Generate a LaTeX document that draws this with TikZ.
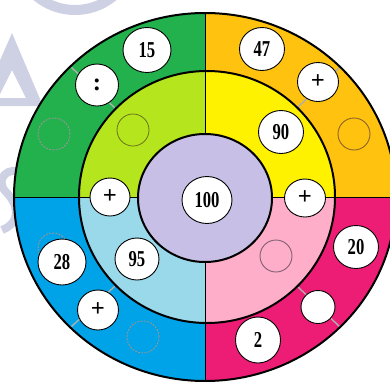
\documentclass[tikz,border=0pt]{standalone}
\usepackage{fontspec}
\setmainfont{Liberation Serif}
\usetikzlibrary{shapes.geometric}
\definecolor{cgreen}{RGB}{34,177,76}
\definecolor{clime}{RGB}{181,230,29}
\definecolor{corange}{RGB}{255,194,14}
\definecolor{cyellow}{RGB}{255,242,0}
\definecolor{cmagenta}{RGB}{237,28,116}
\definecolor{cpink}{RGB}{255,174,201}
\definecolor{cblue}{RGB}{0,162,232}
\definecolor{clblue}{RGB}{153,217,234}
\definecolor{clav}{RGB}{200,191,231}
\definecolor{cwater}{RGB}{206,209,228}
\definecolor{colive}{RGB}{105,115,25}
\definecolor{cbrown}{RGB}{140,100,40}
\definecolor{cmauve}{RGB}{130,95,115}
\definecolor{cradial}{RGB}{175,175,175}
\definecolor{cdash}{RGB}{150,150,150}
\tikzset{
  numnode/.style 2 args={ellipse, draw=black, line width=0.9bp, fill=white, inner sep=0pt,
    minimum width=#1bp, minimum height=#2bp,
    font=\fontsize{19}{19}\selectfont\bfseries},
  dashcirc/.style={draw=cdash, line width=0.9bp, dash pattern=on 2bp off 1.2bp},
  ringline/.style={line width=2bp, draw=black},
  divline/.style={line width=0.9bp, draw=black},
  radline/.style={line width=1.4bp, draw=cradial}
}
\newcommand{\tall}[1]{\scalebox{0.88}[1.2]{#1}}
\newcommand{\sym}[1]{\scalebox{1.3}[1.3]{#1}}
\begin{document}
\begin{tikzpicture}[x=1bp,y=-1bp]
\useasboundingbox (0,0) rectangle (390,382);
% watermark
\fill[cwater, even odd rule] (75,-50) circle [radius=65bp] (75,-50) circle [radius=55bp];
\fill[cwater, even odd rule] (12,33) -- (43,106) -- (-20,106) -- cycle
  (12,70) -- (26,98) -- (-2,98) -- cycle;
\draw[cwater, line width=8bp] (24,174) .. controls (8,164) and (-6,180) .. (6,192)
  .. controls (18,204) and (22,222) .. (2,230);
% outer ring quadrants
\coordinate (C) at (205,197);
\begin{scope}
  \clip (0,0) rectangle (205,197);
  \fill[cgreen] (205,197) ellipse [x radius=191bp, y radius=184bp];
  \fill[clime] (207,197) ellipse [x radius=128bp, y radius=126bp];
\end{scope}
\begin{scope}
  \clip (205,0) rectangle (400,197);
  \fill[corange] (205,197) ellipse [x radius=191bp, y radius=184bp];
  \fill[cyellow] (207,197) ellipse [x radius=128bp, y radius=126bp];
\end{scope}
\begin{scope}
  \clip (0,197) rectangle (205,390);
  \fill[cblue] (205,197) ellipse [x radius=191bp, y radius=184bp];
  \fill[clblue] (207,197) ellipse [x radius=128bp, y radius=126bp];
\end{scope}
\begin{scope}
  \clip (205,197) rectangle (400,390);
  \fill[cmagenta] (205,197) ellipse [x radius=191bp, y radius=184bp];
  \fill[cpink] (207,197) ellipse [x radius=128bp, y radius=126bp];
\end{scope}
% dividers
\coordinate (dT) at (205,13);
\coordinate (dB) at (205,381);
\coordinate (dL) at (14,197);
\coordinate (dR) at (396,197);
\draw[divline] (dT) -- (dB);
\draw[divline] (dL) -- (dR);
% radial grey lines in outer ring
\coordinate (r1a) at (115,108); \coordinate (r1b) at (71,67);
\coordinate (r2a) at (297,108); \coordinate (r2b) at (340,67);
\coordinate (r3a) at (115,286); \coordinate (r3b) at (71,327);
\coordinate (r4a) at (297,286); \coordinate (r4b) at (340,327);
\draw[radline] (r1a) -- (r1b);
\draw[radline] (r2a) -- (r2b);
\draw[radline] (r3a) -- (r3b);
\draw[radline] (r4a) -- (r4b);
% inner circle
\fill[clav] (205,198) ellipse [x radius=67bp, y radius=64bp];
% ring borders
\draw[ringline] (205,197) ellipse [x radius=191bp, y radius=184bp];
\draw[ringline] (207,197) ellipse [x radius=128bp, y radius=126bp];
\draw[ringline] (205,198) ellipse [x radius=67bp, y radius=64bp];
% empty outline circles
\draw[dashcirc] (54,134) circle [radius=16bp];
\draw[dashcirc] (143,337) circle [radius=16bp];
\draw[dashcirc] (53,248) circle [radius=15bp];
\draw[colive, line width=0.8bp] (133,130) circle [radius=16bp];
\draw[cbrown, line width=0.9bp] (354,134) circle [radius=16bp];
\draw[cmauve, line width=0.9bp] (276,256) circle [radius=16bp];
% number circles
\node[numnode={48}{45}] (n15) at (147,50) {\tall{15}};
\node[numnode={43}{42}] (ncolon) at (97,85) {\sym{:}};
\node[numnode={45}{43}] (n47) at (262,49) {\tall{47}};
\node[numnode={41}{39}] (pTR) at (318,82) {\sym{+}};
\node[numnode={45}{43}] (n90) at (281,132) {\tall{90}};
\node[numnode={41}{38}] (pR) at (305,198) {\sym{+}};
\node[numnode={50}{47}] (n100) at (207,200) {\tall{100}};
\node[numnode={40}{38}] (pL) at (110,197) {\sym{+}};
\node[numnode={48}{46}] (n28) at (62,262) {\tall{28}};
\node[numnode={44}{42}] (n95) at (137,259) {\tall{95}};
\node[numnode={41}{40}] (pBL) at (98,310) {\sym{+}};
\node[numnode={45}{43}] (n20) at (356,247) {\tall{20}};
\node[numnode={34}{33}] (nblank) at (318,307) {};
\node[numnode={45}{46}] (n2) at (258,340) {\tall{2}};
\end{tikzpicture}
\end{document}
